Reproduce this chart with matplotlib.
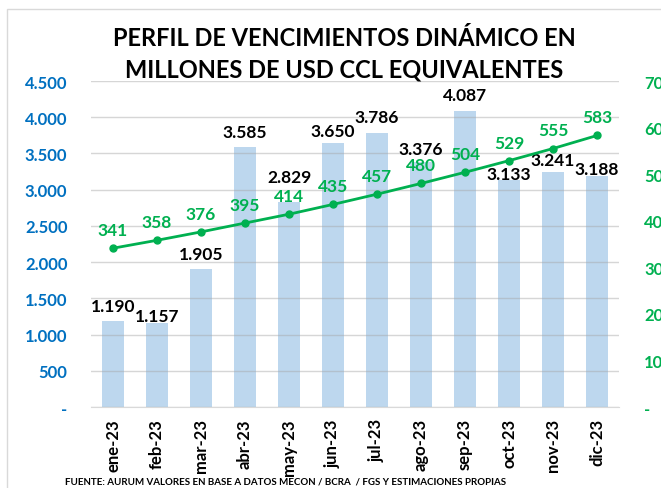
import matplotlib.pyplot as plt
from matplotlib.patches import Rectangle
from matplotlib.ticker import FuncFormatter

plt.rcParams['font.family'] = ['Lato', 'DejaVu Sans']

meses = ['ene-23', 'feb-23', 'mar-23', 'abr-23', 'may-23', 'jun-23',
         'jul-23', 'ago-23', 'sep-23', 'oct-23', 'nov-23', 'dic-23']
vencimientos = [1190, 1157, 1905, 3585, 2829, 3650, 3786, 3376, 4087, 3133, 3241, 3188]
acumulado = [341, 358, 376, 395, 414, 435, 457, 480, 504, 529, 555, 583]

# desplazamiento vertical de cada etiqueta de barra (en puntos)
desp_barras = [11, 5, 11, 11, 18, 8, 11, 10, 11.5, 4, 9, 5]

azul = '#0070C0'
verde = '#00B050'


def miles(v, pos=None):
    if v == 0:
        return '-'
    return f'{v:,.0f}'.replace(',', '.')


fig = plt.figure(figsize=(6.61, 4.89), dpi=100)
ax = fig.add_axes([0.1377, 0.1656, 0.7988, 0.6667])
ax2 = ax.twinx()

x = range(len(meses))
ax.bar(x, vencimientos, width=0.5, color='#BDD7EE', zorder=1)
ax.set_ylim(0, 4500)
ax.set_yticks(range(0, 4501, 500))
ax.yaxis.set_major_formatter(FuncFormatter(miles))
ax.grid(axis='y', color='#A6A6A6', alpha=0.45, lw=1)
ax.set_axisbelow(False)
ax.set_xlim(-0.5, len(meses) - 0.5)
ax.set_xticks(list(x))
ax.set_xticklabels(meses, rotation=90, fontsize=12, fontweight='bold')

for i, v in enumerate(vencimientos):
    ax.annotate(miles(v), (i, v), xytext=(0, desp_barras[i]), textcoords='offset points',
                ha='center', va='center', fontsize=12.5, fontweight='bold', color='black')

ax2.plot(x, acumulado, color=verde, lw=2, marker='o', markersize=5, zorder=3)
ax2.set_ylim(0, 700)
ax2.set_yticks(range(0, 701, 100))
ax2.yaxis.set_major_formatter(FuncFormatter(miles))
for i, v in enumerate(acumulado):
    ax2.annotate(str(v), (i, v), xytext=(0, 13), textcoords='offset points',
                 ha='center', va='center', fontsize=12.5, fontweight='bold', color=verde)

for a in (ax, ax2):
    for s in a.spines.values():
        s.set_visible(False)
ax.spines['bottom'].set_visible(True)
ax.spines['bottom'].set_color('#D9D9D9')

ax.tick_params(axis='y', length=0, pad=17, labelsize=12, labelcolor=azul)
ax.tick_params(axis='x', length=0, pad=8)
ax2.tick_params(axis='y', length=0, pad=18, labelsize=12, labelcolor=verde)
for t in ax.get_yticklabels() + ax2.get_yticklabels():
    t.set_fontweight('bold')

fig.text(0.521, 0.922, 'PERFIL DE VENCIMIENTOS DINÁMICO EN', ha='center', va='center',
         fontsize=17, fontweight='bold')
fig.text(0.521, 0.857, 'MILLONES DE USD CCL EQUIVALENTES', ha='center', va='center',
         fontsize=17, fontweight='bold')
fig.text(0.098, 0.014, 'FUENTE: AURUM VALORES EN BASE A DATOS MECON / BCRA  / FGS Y ESTIMACIONES PROPIAS',
         ha='left', va='center', fontsize=7, fontweight='bold')

# borde del recuadro del gráfico
fig.patches.append(Rectangle((7 / 661, -0.1), 1.2, 1.1 - 10 / 489, transform=fig.transFigure,
                             fill=False, edgecolor='#D9D9D9', lw=1))

fig.savefig('out.png', dpi=100)
